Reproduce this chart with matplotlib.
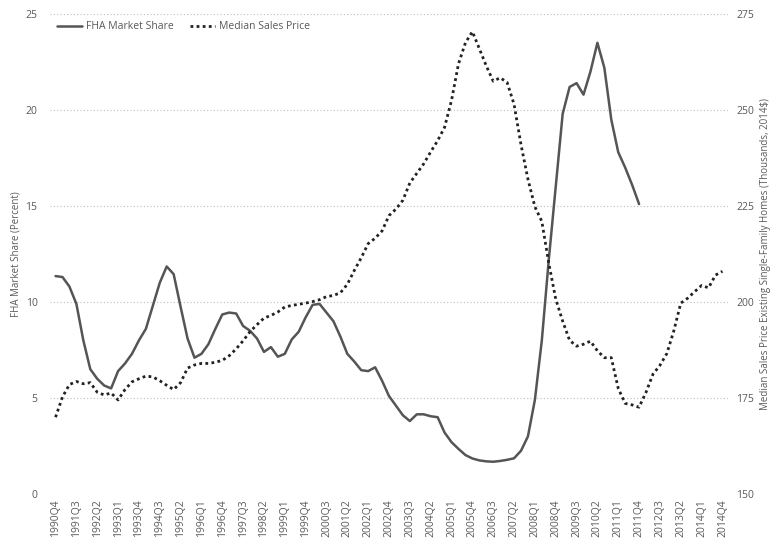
import matplotlib
matplotlib.use("Agg")
import matplotlib.pyplot as plt
import numpy as np

# Quarters 1990Q4 .. 2014Q4
quarters = []
y, q = 1990, 4
while (y, q) <= (2014, 4):
    quarters.append(f"{y}Q{q}")
    q += 1
    if q > 4:
        q = 1
        y += 1

fha_share = [11.35, 11.3, 10.8, 9.9, 8.0, 6.5, 6.0, 5.65, 5.5, 6.4, 6.8, 7.3, 8.0, 8.6, 9.8,
             11.0, 11.85, 11.45, 9.75, 8.1, 7.1, 7.3, 7.8, 8.6, 9.35, 9.45, 9.4, 8.75, 8.5, 8.1,
             7.4, 7.65, 7.15, 7.3, 8.05, 8.45, 9.2, 9.85, 9.9, 9.45, 9.0, 8.2, 7.3, 6.9, 6.45,
             6.4, 6.6, 5.9, 5.1, 4.6, 4.1, 3.8, 4.15, 4.15, 4.05, 4.0, 3.2, 2.7, 2.35, 2.03,
             1.85, 1.75, 1.7, 1.68, 1.72, 1.78, 1.86, 2.25, 3.0, 4.9, 8.0, 12.2, 16.0, 19.8, 21.2,
             21.4, 20.8, 22.0, 23.5, 22.2, 19.5, 17.8, 17.0, 16.1, 15.1]

median_price = [170.0, 175.3, 178.5, 179.3, 178.7, 179.0, 176.5, 175.8, 176.3, 174.5, 177.2, 179.2,
                180.0, 180.7, 180.5, 179.5, 178.3, 177.2, 179.0, 182.8, 183.6, 184.0, 184.0, 184.3,
                184.8, 186.0, 187.8, 189.9, 192.3, 194.1, 195.8, 196.5, 197.4, 198.7, 199.1, 199.4,
                199.7, 200.1, 200.6, 201.4, 201.7, 202.4, 204.6, 208.2, 211.5, 215.2, 216.6, 218.5,
                222.5, 224.2, 226.5, 231.0, 233.5, 236.0, 239.1, 242.0, 245.5, 252.5, 262.0, 267.5,
                270.4, 266.0, 261.5, 257.5, 258.4, 257.2, 251.5, 241.0, 232.0, 224.8, 221.0, 210.1,
                200.8, 195.0, 190.0, 188.5, 189.0, 189.8, 187.3, 185.5, 185.5, 177.5, 173.6, 173.2,
                172.6, 176.5, 181.2, 183.5, 186.6, 192.5, 199.7, 201.0, 202.7, 204.3, 203.7, 207.0,
                208.0]

left_ticks = [0, 5, 10, 15, 20, 25]
right_ticks = [150, 175, 200, 225, 250, 275]

txt = "#595959"
plt.rcParams['font.family'] = ['Open Sans', 'DejaVu Sans']

fig = plt.figure(figsize=(7.73, 5.46), dpi=100)
ax = fig.add_axes([50/773, 1-494/546, 678/773, 480/546])
ax2 = ax.twinx()

x = np.arange(len(quarters))
xf = np.arange(len(fha_share))

l1, = ax.plot(xf, fha_share, color="#555555", lw=1.8, solid_capstyle="round",
              label="FHA Market Share")
l2, = ax2.plot(x, median_price, color="#222222", lw=2.0, linestyle=(0, (1, 1.2)),
               label="Median Sales Price")

ax.set_xlim(-0.8, 96.8)
ax.set_ylim(0, 25)
ax2.set_ylim(150, 275)
ax.set_yticks(left_ticks)
ax2.set_yticks(right_ticks)

ax.set_xticks(x[::3])
ax.set_xticklabels(quarters[::3], rotation=90, fontsize=7.5, color=txt)
ax.tick_params(axis='x', length=0, pad=4)
ax.tick_params(axis='y', length=0, labelsize=7.5, labelcolor=txt, pad=9)
ax2.tick_params(axis='y', length=0, labelsize=7.5, labelcolor=txt, pad=6)

ax.grid(axis='y', color="#bdbdbd", linestyle=(0, (1, 2)), lw=0.8)
for a in (ax, ax2):
    for s in a.spines.values():
        s.set_visible(False)

ax.set_ylabel("FHA Market Share (Percent)", fontsize=7, color=txt, labelpad=3)
ax2.set_ylabel("Median Sales Price Existing Single-Family Homes (Thousands, 2014$)",
               fontsize=7, color=txt, labelpad=4)

leg = ax.legend(handles=[l1, l2], loc="upper left", ncol=2, frameon=False, fontsize=7.5,
                bbox_to_anchor=(0.0, 1.0), handlelength=2.4, handletextpad=0.35,
                columnspacing=1.6, borderaxespad=0.3)
for t in leg.get_texts():
    t.set_color(txt)

fig.savefig("out.png", dpi=100)
